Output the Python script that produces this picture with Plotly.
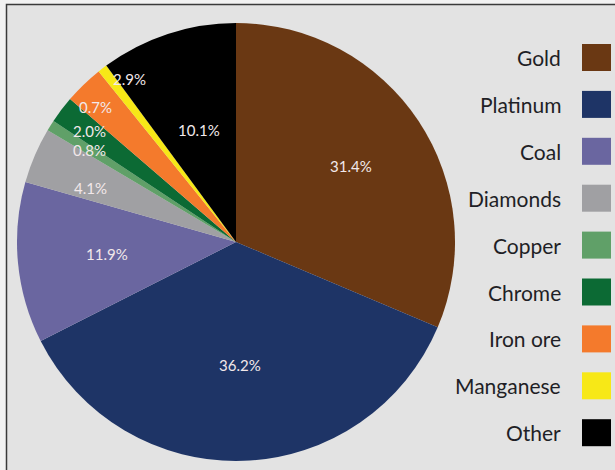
import math

import plotly.graph_objects as go

# Daten (Anteile in %, im Uhrzeigersinn ab 12 Uhr)
minerals = ["Gold", "Platinum", "Coal", "Diamonds", "Copper", "Chrome", "Iron ore", "Manganese", "Other"]
shares = [31.4, 36.2, 11.9, 4.1, 0.8, 2.0, 2.9, 0.7, 10.1]
# Beschriftungen so wie sie im Original stehen
label_text = ["31.4%", "36.2%", "11.9%", "4.1%", "0.8%", "2.0%", "0.7%", "2.9%", "10.1%"]
colors = ["#6a3813", "#1e3466", "#6a66a0", "#a0a0a3", "#60a068", "#0c6a34", "#f47a2c", "#f7e817", "#000000"]

# Layout (Pixel der 615x470-Fläche)
W, H = 615, 470
CX, CY, R = 236, 242, 219
# Label-Position: Anteil des Radius und Winkelversatz (Grad) gegenüber der Segmentmitte
label_radius = [0.63, 0.56, 0.59, 0.71, 0.79, 0.84, 0.89, 0.89, 0.54]
label_shift = [0, 0, 0, -3, 0, 0, -2, 4.5, 0]

fig = go.Figure()
fig.add_trace(
    go.Pie(
        labels=minerals, values=shares, sort=False, direction="clockwise",
        marker=dict(colors=colors, line=dict(width=0)),
        textinfo="none", hoverinfo="label+percent", showlegend=False,
        domain=dict(x=[(CX - R) / W, (CX + R) / W], y=[(H - CY - R) / H, (H - CY + R) / H]),
    )
)

annotations = []
total = sum(shares)
cum = 0.0
for val, txt, f, d in zip(shares, label_text, label_radius, label_shift):
    mid = (cum + val / 2) / total * 2 * math.pi + math.radians(d)
    cum += val
    px = CX + f * R * math.sin(mid)
    py = CY - f * R * math.cos(mid)
    annotations.append(dict(
        x=px / W, y=(H - py) / H, xref="paper", yref="paper", xanchor="center", yanchor="middle",
        text=txt, showarrow=False, font=dict(family="Lato", size=15, color="#f2e8ea"),
    ))

# Legende von Hand: Text rechtsbündig, Farbfeld rechts daneben
shapes = [dict(type="rect", xref="paper", yref="paper", x0=6.5 / W, x1=1.05, y0=-0.05, y1=(H - 4.5) / H,
               fillcolor="#e3e3e3", line=dict(color="#3a3a3a", width=1.5), layer="below")]
for i, (name, col) in enumerate(zip(minerals, colors)):
    yc = 57.5 + i * 46.9
    annotations.append(dict(
        x=563 / W, y=(H - yc) / H, xref="paper", yref="paper", xanchor="right", yanchor="middle",
        text=name, showarrow=False, font=dict(family="Lato", size=21, color="#1f1f26"),
    ))
    shapes.append(dict(type="rect", xref="paper", yref="paper", x0=582 / W, x1=611 / W,
                       y0=(H - yc - 13.5) / H, y1=(H - yc + 13.5) / H, fillcolor=col, line=dict(width=0)))

fig.update_layout(
    width=W, height=H, margin=dict(l=0, r=0, t=0, b=0),
    paper_bgcolor="#f2f2f2", plot_bgcolor="#e3e3e3",
    annotations=annotations, shapes=shapes,
)
# Seitenrand des Browsers entfernen, damit die Grafik bei (0,0) beginnt
fig.write_html("out.html", config={"displayModeBar": False},
               post_script="document.body.style.margin='0';")
